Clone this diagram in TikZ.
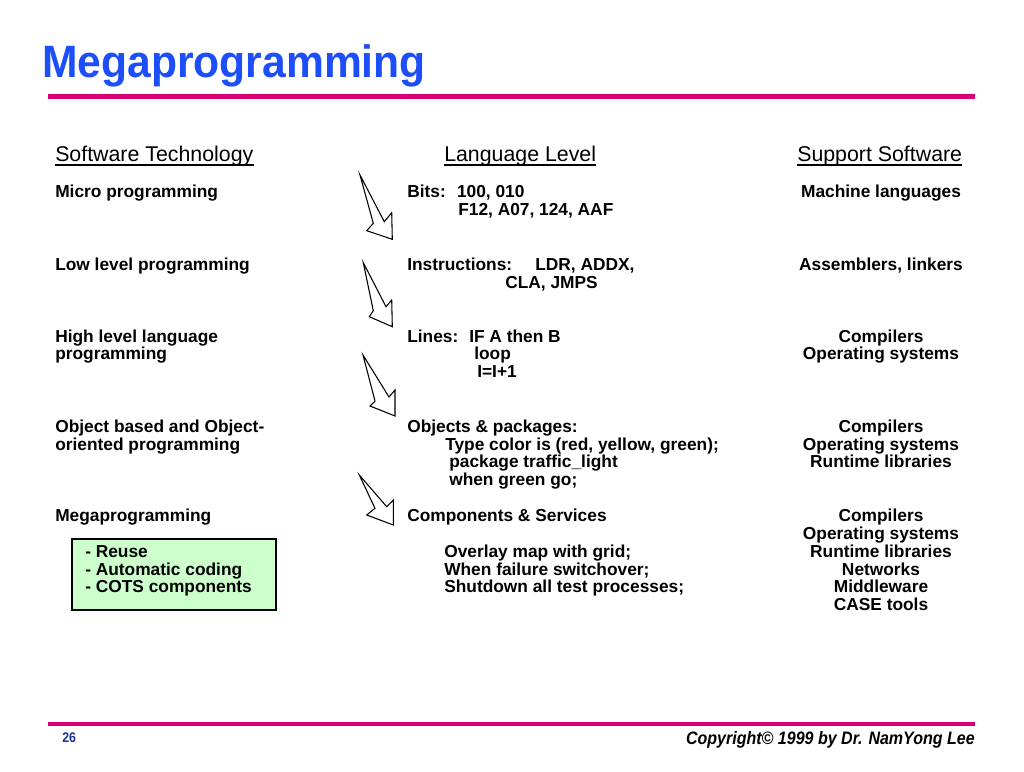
\documentclass[tikz,border=0pt]{standalone}
\usepackage{fontspec}
\setmainfont{Liberation Sans}
\definecolor{titleblue}{RGB}{28,78,250}
\definecolor{rulepink}{RGB}{214,0,111}
\definecolor{boxgreen}{RGB}{204,255,204}
\definecolor{footnavy}{RGB}{30,50,140}
\begin{document}
\begin{tikzpicture}[x=0.75pt,y=-0.75pt,
  body/.style={anchor=base west, inner sep=0pt, font=\fontsize{13}{15}\selectfont\bfseries},
  bodyc/.style={anchor=base, inner sep=0pt, font=\fontsize{13}{15}\selectfont\bfseries},
  head/.style={anchor=base west, inner sep=0pt, font=\fontsize{16}{19}\selectfont},
  uline/.style={line width=1.1pt},
  blockarrow/.style={draw=black, line width=0.8pt, line join=miter, fill=white},
  greenbox/.style={draw=black, line width=0.8pt, fill=boxgreen}]
\useasboundingbox (0,0) rectangle (1024,771);
% title and rules
\node[anchor=base west, inner sep=0pt, text=titleblue, font=\fontsize{34}{40}\selectfont\bfseries] (title) at (42,77.5) {\scalebox{0.94}[1]{Megaprogramming}};
\fill[rulepink] (48,93.5) rectangle (975,99);
\fill[rulepink] (48,722) rectangle (975,726);
% headers
\node[head] (h1) at (55,161.5) {Software Technology};
\node[head] (h2) at (444,161.5) {Language Level};
\node[head] (h3) at (797,161.5) {Support Software};
\foreach \h in {h1,h2,h3}{\draw[uline] ([yshift=-2.6pt]\h.base west) -- ([yshift=-2.6pt]\h.base east);}
% column 1
\node[body] (a1) at (55,197) {Micro programming};
\node[body] (a2) at (55,270) {Low level programming};
\node[body] (a3) at (55,342) {High level language};
\node[body] (a3b) at (55,359.5) {programming};
\node[body] (a4) at (55,432.5) {Object based and Object-};
\node[body] (a4b) at (55,450) {oriented programming};
\node[body] (a5) at (55,521) {Megaprogramming};
% green box
\draw[greenbox] (72,539) rectangle (276,610);
\node[body] (g1) at (85,557) {- Reuse};
\node[body] (g2) at (85,575) {- Automatic coding};
\node[body] (g3) at (85,592.5) {- COTS components};
% column 2
\node[body] (b1) at (407,197) {\makebox[37.3pt][l]{Bits:}100, 010};
\node[body] (b1b) at (458,215) {F12, A07, 124, AAF};
\node[body] (b2) at (407,270) {\makebox[96pt][l]{Instructions:}LDR, ADDX,};
\node[body] (b2b) at (505,288) {CLA, JMPS};
\node[body] (b3) at (407,342) {\makebox[46.5pt][l]{Lines:}IF A then B};
\node[body] (b3b) at (474,359.5) {loop};
\node[body] (b3c) at (477,377) {I=I+1};
\node[body] (b4) at (407,432.5) {Objects \& packages:};
\node[body] (b4b) at (445,450) {Type color is (red, yellow, green);};
\node[body] (b4c) at (449,467.5) {package traffic\_light};
\node[body] (b4d) at (449,485.5) {when green go;};
\node[body] (b5) at (407,521) {Components \& Services};
\node[body] (b5b) at (444,557) {Overlay map with grid;};
\node[body] (b5c) at (444,575) {When failure switchover;};
\node[body] (b5d) at (444,592.5) {Shutdown all test processes;};
% column 3
\node[bodyc] (c1) at (881,197) {Machine languages};
\node[bodyc] (c2) at (881,270) {Assemblers, linkers};
\node[bodyc] (c3) at (881,342) {Compilers};
\node[bodyc] (c3b) at (881,359.5) {Operating systems};
\node[bodyc] (c4) at (881,432.5) {Compilers};
\node[bodyc] (c4b) at (881,450) {Operating systems};
\node[bodyc] (c4c) at (881,467.5) {Runtime libraries};
\node[bodyc] (c5) at (881,521) {Compilers};
\node[bodyc] (c5b) at (881,539) {Operating systems};
\node[bodyc] (c5c) at (881,557) {Runtime libraries};
\node[bodyc] (c5d) at (881,575) {Networks};
\node[bodyc] (c5e) at (881,592.5) {Middleware};
\node[bodyc] (c5f) at (881,610) {CASE tools};
% block arrows
\draw[blockarrow] (360,175) -- (373.3,223.3) -- (366.7,230.7) -- (392.3,239.3) -- (391.7,212.7) -- (384.3,221.7) -- cycle;
\draw[blockarrow] (363.3,262.7) -- (373.3,310.7) -- (369.3,316.7) -- (392.3,326.7) -- (391.7,300) -- (386,306.7) -- cycle;
\draw[blockarrow] (363,355) -- (375,401) -- (370,406) -- (395,416) -- (395,390) -- (389,397) -- cycle;
\draw[blockarrow] (359.3,475) -- (375,508.3) -- (366.7,515) -- (393.3,525) -- (393.3,500) -- (386.7,506.7) -- cycle;
% footer
\node[anchor=base west, inner sep=0pt, text=footnavy, font=\fontsize{10.5}{12}\selectfont\bfseries] (pg) at (62,742) {\scalebox{0.88}[1]{26}};
\node[anchor=base east, inner sep=0pt, font=\fontsize{13.5}{16}\selectfont\bfseries\itshape] (copy) at (975,744) {\scalebox{0.89}[1]{Copyright© 1999 by Dr. NamYong Lee}};
\end{tikzpicture}
\end{document}
